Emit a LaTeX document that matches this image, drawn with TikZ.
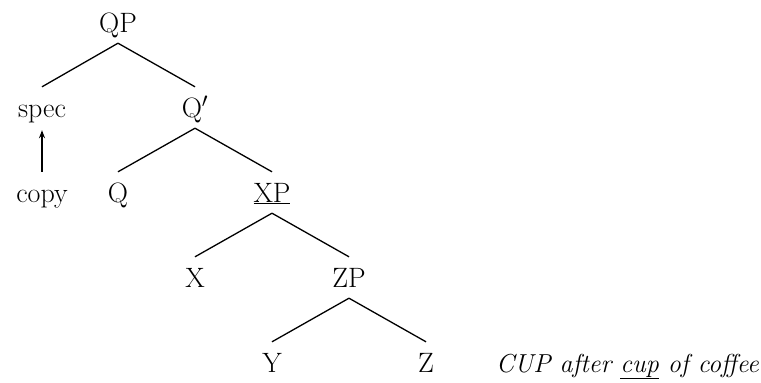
\documentclass[tikz,border=0pt]{standalone}
\usetikzlibrary{arrows.meta}
\begin{document}
\begin{tikzpicture}[x=1pt,y=-1pt,
  lab/.style={anchor=base,inner xsep=0pt,inner ysep=6pt,text height=24pt,text depth=5pt,font=\fontsize{28}{32}\selectfont},
  edge/.style={line width=1.3pt},
  mv/.style={line width=1.3pt,-{Stealth[length=8pt,width=6pt]}}]
\useasboundingbox (0,0) rectangle (761,383);
\node[lab] (QP) at (118,32) {QP};
\node[lab] (spec) at (42,117) {spec};
\node[lab] (Qbar) at (195,117) {Q$'$};
\node[lab] (copy) at (42,202) {copy};
\node[lab] (Q) at (118,202) {Q};
\node[lab] (XP) at (272,202) {\underline{XP}};
\node[lab] (X) at (195,287) {X};
\node[lab] (ZP) at (349,287) {ZP};
\node[lab] (Y) at (272,372) {Y};
\node[lab] (Z) at (426,372) {Z};
\node[lab,anchor=base west,font=\fontsize{26}{30}\selectfont] (cap) at (496,372) {\itshape CUP after \underline{cup} of coffee};
\draw[edge] (QP.south) -- (spec.north);
\draw[edge] (QP.south) -- (Qbar.north);
\draw[edge] (Qbar.south) -- (Q.north);
\draw[edge] (Qbar.south) -- (XP.north);
\draw[edge] (XP.south) -- (X.north);
\draw[edge] (XP.south) -- (ZP.north);
\draw[edge] (ZP.south) -- (Y.north);
\draw[edge] (ZP.south) -- (Z.north);
\draw[mv] (copy.north) -- ([yshift=-2pt]spec.south);
\end{tikzpicture}
\end{document}
